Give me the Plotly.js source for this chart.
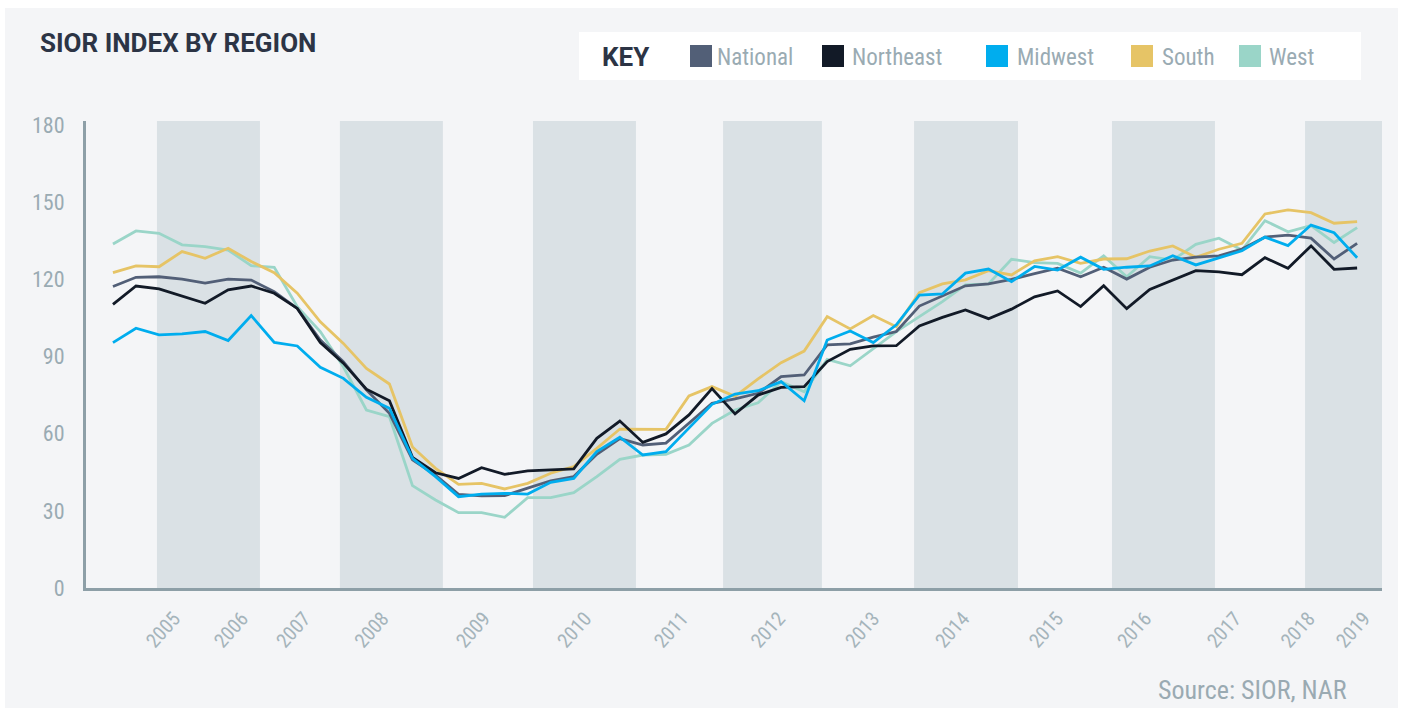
<!DOCTYPE html>
<html>
<head>
<meta charset="utf-8">
<script src="https://cdn.plot.ly/plotly-3.0.1.min.js"></script>
<style>
  html, body { margin: 0; padding: 0; background: #ffffff; width: 1403px; height: 708px; overflow: hidden; }
  #chart { position: absolute; left: 5px; top: 8px; width: 1393px; height: 700px; }
</style>
</head>
<body>
<div id="chart"></div>
<script>
// ---- Data (quarterly index values) ----
const national = [117.2,120.8,121.0,120.1,118.5,120.1,119.7,115.2,108.7,96.4,88.0,77.0,67.9,49.8,43.9,36.4,35.8,35.9,38.8,41.7,43.3,52.0,58.1,55.6,56.3,64.0,71.8,73.5,75.7,82.2,82.8,94.5,94.9,97.5,99.7,109.6,113.5,117.5,118.2,120.0,122.2,124.3,121.0,124.7,120.1,124.7,127.5,128.6,129.1,131.8,136.4,137.2,136.0,127.9,134.0];
const northeast = [110.3,117.4,116.3,113.5,110.7,115.9,117.4,114.6,108.7,95.4,87.4,77.3,72.8,50.8,44.8,42.6,46.8,44.2,45.5,45.9,46.3,58.2,64.9,56.6,59.9,67.3,77.5,67.7,75.0,78.0,78.3,88.0,92.8,94.1,94.2,101.9,105.2,108.1,104.7,108.4,113.2,115.5,109.4,117.5,108.6,116.1,119.8,123.4,122.9,121.8,128.4,124.3,133.0,123.9,124.4];
const midwest = [95.4,101.0,98.4,98.8,99.7,96.2,105.9,95.5,94.1,85.8,81.5,74.1,69.9,50.4,43.3,35.5,36.5,36.8,36.5,41.1,42.6,53.0,58.6,51.7,53.0,62.1,71.4,75.4,76.7,80.2,72.8,96.4,99.9,95.4,102.3,113.9,114.3,122.4,124.0,119.1,125.0,123.6,128.6,123.9,124.7,125.2,129.2,125.6,128.2,131.1,136.4,133.1,141.1,138.1,128.4];
const south = [122.6,125.2,124.9,130.8,128.2,132.1,126.9,122.6,114.6,103.5,95.1,85.4,79.3,54.8,46.5,40.3,40.7,38.5,40.7,44.6,47.2,54.3,61.8,61.7,61.7,74.7,78.3,74.5,81.3,87.6,92.1,105.5,100.7,105.9,101.6,114.8,118.2,119.8,123.4,121.7,127.2,128.8,126.2,127.9,128.0,131.0,133.0,128.6,131.7,134.0,145.4,147.0,145.9,141.8,142.4];
const west = [133.7,138.8,137.9,133.4,132.7,131.4,125.3,124.7,109.4,99.7,86.0,69.2,66.6,39.8,34.2,29.3,29.3,27.5,35.1,35.1,37.1,43.3,50.0,51.7,52.0,55.6,64.0,69.2,72.0,80.2,76.3,88.9,86.4,93.2,99.7,105.5,111.3,117.8,118.2,127.8,126.5,126.2,122.4,129.1,121.0,128.8,127.5,133.6,136.0,131.4,142.8,138.5,140.9,134.3,140.1];

const seriesNames = ["National", "Northeast", "Midwest", "South", "West"];
const seriesColors = ["#525f77", "#121a27", "#00adee", "#e6c466", "#9ad5c8"];
const yearLabels = ["2005","2006","2007","2008","2009","2010","2011","2012","2013","2014","2015","2016","2017","2018","2019"];
const yTickValues = [0, 30, 60, 90, 120, 150, 180];

// ---- Layout helpers (positions, not data) ----
const yearTickPos = [2.65,5.6,8.3,11.7,16.1,20.5,24.7,28.9,33.0,36.9,40.97,44.8,48.7,51.9,54.3];
const bandSpans = [[1.91,6.38],[9.85,14.32],[18.23,22.70],[26.48,30.77],[34.77,39.28],[43.36,47.83],[51.74,55.2]];

const FONT = "'Liberation Sans Narrow', 'Roboto Condensed', Roboto, sans-serif";
const BOLD = "Roboto, 'Liberation Sans', sans-serif";
const PL = 86, PR = 1382, PT = 121, PB = 588; // plot area in page pixels
const px = v => (v - PL) / (PR - PL);
const py = v => (PB - v) / (PB - PT);

const valuesBySeries = {National: national, Northeast: northeast, Midwest: midwest, South: south, West: west};
const drawOrder = ["West", "South", "National", "Northeast", "Midwest"];
const traces = drawOrder.map(name => {
  const ys = valuesBySeries[name];
  return {
    type: "scatter", mode: "lines", name: name,
    x: ys.map((_, i) => i), y: ys,
    line: {color: seriesColors[seriesNames.indexOf(name)], width: 2.8},
    hoverinfo: "skip"
  };
});

const shapes = bandSpans.map(s => ({
  type: "rect", xref: "x", yref: "paper", x0: s[0], x1: s[1], y0: 0, y1: 1,
  fillcolor: "#dae1e5", line: {width: 0}, layer: "below"
}));

// legend box
shapes.push({type: "rect", xref: "paper", yref: "paper", x0: px(579), x1: px(1361), y0: py(80), y1: py(32),
  fillcolor: "#ffffff", line: {width: 0}, layer: "above"});
const swatchLeft = [690, 822, 986, 1131, 1239];
const textLeft = [717, 852, 1017, 1162, 1269];
seriesNames.forEach((n, k) => {
  shapes.push({type: "rect", xref: "paper", yref: "paper", x0: px(swatchLeft[k]), x1: px(swatchLeft[k] + 22),
    y0: py(67), y1: py(45), fillcolor: seriesColors[k], line: {width: 0}, layer: "above"});
});

const annotations = [
  {text: "<b>SIOR INDEX BY REGION</b>", xref: "paper", yref: "paper", x: px(38), y: py(43), xanchor: "left", yanchor: "middle",
   showarrow: false, font: {family: BOLD, size: 26, color: "#2c3445"}},
  {text: "<b>KEY</b>", xref: "paper", yref: "paper", x: px(600), y: py(57), xanchor: "left", yanchor: "middle",
   showarrow: false, font: {family: BOLD, size: 26, color: "#2c3445"}},
  {text: "Source: SIOR, NAR", xref: "paper", yref: "paper", x: px(1349), y: py(690), xanchor: "right", yanchor: "middle",
   showarrow: false, font: {family: FONT, size: 26, color: "#9aaab2"}}
];
seriesNames.forEach((n, k) => {
  annotations.push({text: n, xref: "paper", yref: "paper", x: px(textLeft[k] - 2), y: py(57), xanchor: "left", yanchor: "middle",
    showarrow: false, font: {family: FONT, size: 23, color: "#9aabb3"}});
});

const layout = {
  width: 1393, height: 700,
  margin: {l: 81, r: 16, t: 113, b: 120, pad: 0},
  paper_bgcolor: "#f4f5f7", plot_bgcolor: "#f4f5f7",
  showlegend: false,
  font: {family: FONT, color: "#9aabb3"},
  xaxis: {
    range: [-1.17, 55.08], showgrid: false, zeroline: false,
    showline: true, linecolor: "#8d9fa7", linewidth: 3,
    tickmode: "array", tickvals: yearTickPos, ticktext: yearLabels,
    tickangle: -48, ticks: "", ticklabelstandoff: 8,
    tickfont: {family: FONT, size: 20, color: "#a5b4bb"}
  },
  yaxis: {
    range: [0, 181.55], showgrid: false, zeroline: false,
    showline: true, linecolor: "#8d9fa7", linewidth: 3,
    tickmode: "array", tickvals: yTickValues, ticks: "", ticklabelstandoff: 14,
    tickfont: {family: FONT, size: 22, color: "#9aabb3"}
  },
  shapes: shapes,
  annotations: annotations
};

Plotly.newPlot("chart", traces, layout, {staticPlot: true, displayModeBar: false});
</script>
</body>
</html>
